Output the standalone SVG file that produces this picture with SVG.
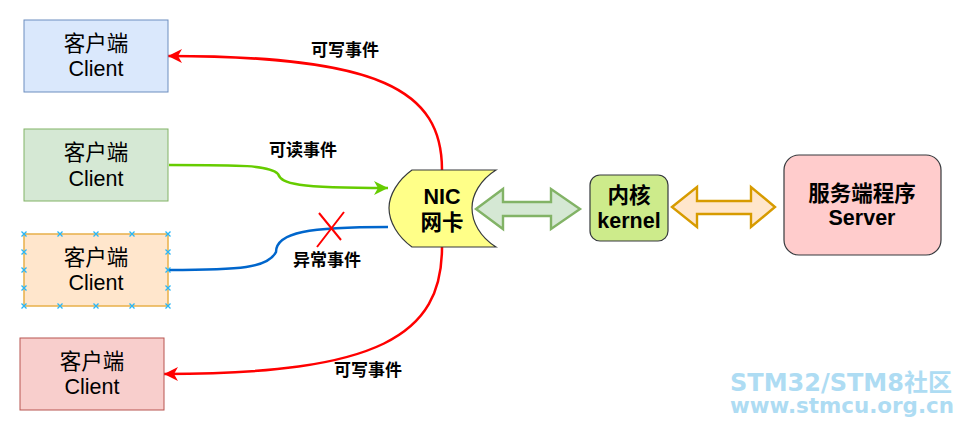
<svg xmlns="http://www.w3.org/2000/svg" width="961" height="428" viewBox="0 0 961 428">
<style>
text{text-anchor:middle;font-family:"Liberation Sans","Noto Sans CJK SC",sans-serif;fill:#000}
.c{font-size:21.5px}
.b{font-size:21.5px;font-weight:bold}
.l{font-size:17px;font-weight:bold}
.w{fill:#aedcf3;font-weight:bold;text-anchor:start;font-family:"DejaVu Sans","Noto Sans CJK SC",sans-serif}
.e{fill:none;stroke-width:2.5px}
.x{fill:none;stroke:#29b6f6;stroke-width:1.3}
</style>
<defs>
<marker id="ar" markerUnits="userSpaceOnUse" markerWidth="16" markerHeight="14" refX="14" refY="7" orient="auto"><path d="M0 0L14 7L0 14L4 7Z" fill="#f00"/></marker>
<marker id="ag" markerUnits="userSpaceOnUse" markerWidth="16" markerHeight="14" refX="14" refY="7" orient="auto"><path d="M0 0L14 7L0 14L4 7Z" fill="#66cc00"/></marker>
<path id="cr" d="M-2.5 -2.5L2.5 2.5M-2.5 2.5L2.5 -2.5" class="x"/>
</defs>
<rect width="961" height="428" fill="#fff"/>
<g id="connectors">
<path class="e" stroke="#f00" marker-end="url(#ar)" d="M442 170C442 90 380 56 168 56"/>
<path class="e" stroke="#f00" marker-end="url(#ar)" d="M442 247C442 335 380 374 164 374"/>
<path class="e" stroke="#66cc00" marker-end="url(#ag)" d="M169 165C240 165 270 165 278 174C282 184 295 188 388 188"/>
<path class="e" stroke="#0066cc" d="M169 270C240 270 268 268 276 252C276 232 310 227 388 227"/>
<path d="M317 247L344 212M319 213L341 240" fill="none" stroke="#f00" stroke-width="2"/>
<path id="a1" d="M476 209L503 189V202H551V189L580 209L551 229V216H503V229Z" fill="#d5e8d4" stroke="#82b366" stroke-width="2.4"/>
<path id="a2" d="M672 207L697 187V201H751V187L775 207L751 227V214H697V227Z" fill="#ffe6cc" stroke="#d79b00" stroke-width="2.4"/>
</g>
<g id="client1"><rect x="24" y="20" width="144" height="72" fill="#dae8fc" stroke="#6c8ebf"/><text class="c" x="96" y="51">客户端</text><text class="c" x="96" y="76">Client</text></g>
<g id="client2"><rect x="24" y="129" width="144" height="72" fill="#d5e8d4" stroke="#82b366"/><text class="c" x="96" y="160">客户端</text><text class="c" x="96" y="186">Client</text></g>
<g id="client3"><rect x="24" y="234" width="144" height="72" fill="#ffe6cc" stroke="#e8b04a" stroke-width="1.5"/><text class="c" x="96" y="265">客户端</text><text class="c" x="96" y="290">Client</text>
<use href="#cr" x="24" y="234"/><use href="#cr" x="60" y="234"/><use href="#cr" x="96" y="234"/><use href="#cr" x="132" y="234"/><use href="#cr" x="168" y="234"/>
<use href="#cr" x="24" y="252"/><use href="#cr" x="168" y="252"/><use href="#cr" x="24" y="270"/><use href="#cr" x="168" y="270"/><use href="#cr" x="24" y="288"/><use href="#cr" x="168" y="288"/>
<use href="#cr" x="24" y="306"/><use href="#cr" x="60" y="306"/><use href="#cr" x="96" y="306"/><use href="#cr" x="132" y="306"/><use href="#cr" x="168" y="306"/></g>
<g id="client4"><rect x="20" y="338" width="144" height="72" fill="#f8cecc" stroke="#b85450"/><text class="c" x="92" y="369">客户端</text><text class="c" x="92" y="394">Client</text></g>
<g id="nic"><path d="M412 170H496C480 180 472 195 472 208C472 222 480 237 496 247H412C398 237 389 222 389 208C389 195 398 180 412 170Z" fill="#ffff88" stroke="#36393d" stroke-width="1.2"/><text class="b" x="442" y="204">NIC</text><text class="b" x="442" y="230">网卡</text></g>
<g id="kernel"><rect x="590" y="175" width="78" height="66" rx="10" fill="#cdeb8b" stroke="#36393d" stroke-width="1.2"/><text class="b" x="629" y="203">内核</text><text class="b" x="629" y="228">kernel</text></g>
<g id="server"><rect x="784" y="155" width="157" height="100" rx="15" fill="#ffcccc" stroke="#36393d" stroke-width="1.2"/><text class="b" x="862" y="201">服务端程序</text><text class="b" x="862" y="225">Server</text></g>
<g id="labels"><text class="l" x="345" y="56">可写事件</text><text class="l" x="303" y="156">可读事件</text><text class="l" x="327" y="266">异常事件</text><text class="l" x="368" y="376">可写事件</text></g>
<g id="watermark"><text class="w" x="730" y="391" font-size="24">STM32/STM8社区</text><text class="w" x="730" y="413" font-size="21.4">www.stmcu.org.cn</text></g>
</svg>
